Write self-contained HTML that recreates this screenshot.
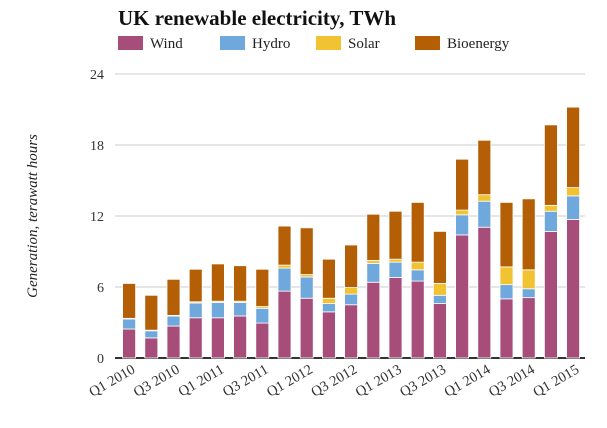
<!DOCTYPE html>
<html><head><meta charset="utf-8"><style>
body{margin:0;background:#fff;width:607px;height:423px;overflow:hidden;font-family:"Liberation Serif",serif}
</style></head><body>
<svg id="chart" width="607" height="423" xmlns="http://www.w3.org/2000/svg">
<text x="118" y="25" font-family="Liberation Serif, serif" font-weight="bold" font-size="21" fill="#111">UK renewable electricity, TWh</text>
<g id="legend"></g>
<g id="grid"></g>
<g id="bars"></g>
<g id="xlabels"></g>
<text transform="translate(37,216) rotate(-90)" text-anchor="middle" font-style="italic" font-size="15" fill="#222">Generation, terawatt hours</text>
</svg>
<script>
const categories=["Q1 2010","Q2 2010","Q3 2010","Q4 2010","Q1 2011","Q2 2011","Q3 2011","Q4 2011","Q1 2012","Q2 2012","Q3 2012","Q4 2012","Q1 2013","Q2 2013","Q3 2013","Q4 2013","Q1 2014","Q2 2014","Q3 2014","Q4 2014","Q1 2015"];
const wind=[2.45,1.7,2.7,3.4,3.4,3.55,2.95,5.65,5.05,3.9,4.5,6.4,6.8,6.5,4.6,10.4,11.05,5.0,5.1,10.7,11.7];
const hydro=[0.85,0.6,0.85,1.25,1.3,1.15,1.25,1.95,1.8,0.7,0.9,1.6,1.3,0.95,0.7,1.7,2.2,1.2,0.75,1.7,2.0];
const solar=[0.05,0.05,0.05,0.1,0.1,0.1,0.15,0.25,0.2,0.45,0.55,0.25,0.25,0.65,1.0,0.4,0.55,1.5,1.6,0.5,0.7];
const bio=[2.95,2.95,3.05,2.75,3.15,3.0,3.15,3.3,3.95,3.3,3.6,3.9,4.05,5.05,4.4,4.3,4.6,5.45,6.0,6.8,6.8];
const yTicks=[0,6,12,18,24];
const seriesNames=["Wind","Hydro","Solar","Bioenergy"];
const colors=["#a64d79","#6fa8dc","#f1c232","#b45f06"];
const NS="http://www.w3.org/2000/svg";
const y0=358,y1=74,vmax=24,x0=118,step=22.2,bw=13;
const yScale=v=>y0-(v/vmax)*(y0-y1);
const xScale=i=>x0+step*i+step/2;
function mk(tag,attrs,parent){const e=document.createElementNS(NS,tag);for(const k in attrs)e.setAttribute(k,attrs[k]);parent.appendChild(e);return e;}
const grid=document.getElementById('grid');
yTicks.forEach(t=>{
 const l=mk('line',{x1:115,x2:585,y1:yScale(t),y2:yScale(t),stroke:t===0?'#333':'#ddd','stroke-width':t===0?2:1.5},grid);
 
 
 const tx=mk('text',{x:104,y:yScale(t)+5,'text-anchor':'end','font-size':'14',fill:'#333'},grid);
 tx.textContent=t;
 
 
});
const bars=document.getElementById('bars');
const series=[wind,hydro,solar,bio];
categories.forEach((c,i)=>{
 let acc=0;
 series.forEach((s,k)=>{
  const v=s[i];const top=yScale(acc+v),bot=yScale(acc);
  const r=mk('rect',{x:xScale(i)-bw/2,y:top,width:bw,height:bot-top,fill:colors[k],stroke:'#fff','stroke-width':0.8},bars);
  
  
  acc+=v;
 });
});
const xl=document.getElementById('xlabels');
categories.forEach((c,i)=>{
 if(i%2)return;
 const x=xScale(i)+7,y=372;
 const t=mk('text',{x:x,y:y,'text-anchor':'end','font-size':'14.5',fill:'#333',transform:`rotate(-30 ${x} ${y})`},xl);
 t.textContent=c;
 
 
});
const lg=document.getElementById('legend');
const lx=[118,220,316,415];
seriesNames.forEach((n,k)=>{
 const r=mk('rect',{x:lx[k],y:36,width:25,height:14,fill:colors[k]},lg);
 
 
 const t=mk('text',{x:lx[k]+32,y:48,'font-size':'15',fill:'#222'},lg);
 t.textContent=n;
 
 
});
</script>
</body></html>
